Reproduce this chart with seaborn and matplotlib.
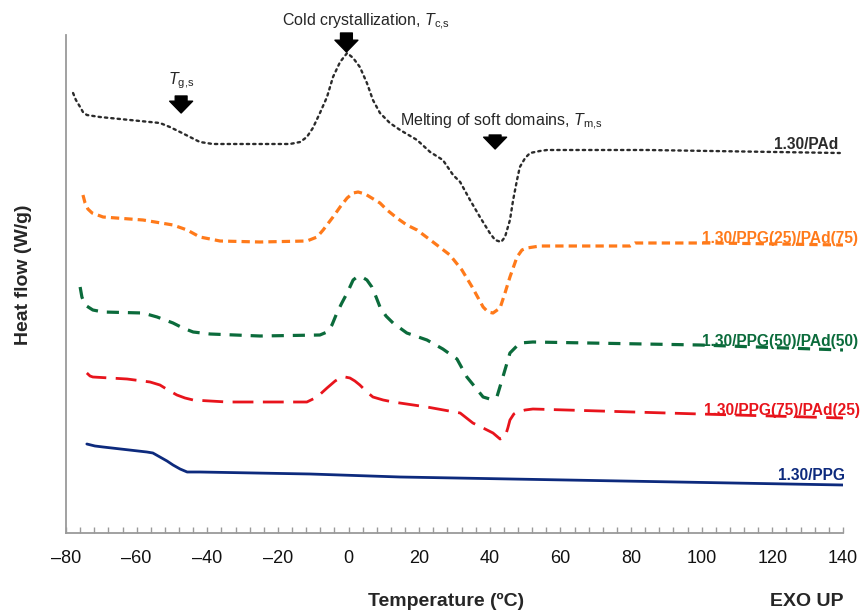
import matplotlib
matplotlib.use("Agg")
import matplotlib.pyplot as plt
from matplotlib.ticker import MultipleLocator, FuncFormatter
import seaborn as sns
import pandas as pd

# ---------------- data (heat flow in arbitrary offset units) ----------------
pad_T = [-78.0, -77.2, -76.0, -75.2, -74.1, -70.4, -53.4, -50.6, -47.7, -44.9, -42.1, -38.4, -32.7,
         -16.6, -13.7, -11.8, -10.1, -8.1, -6.1, -4.4, -2.4, -0.4, 1.3, 3.2, 5.2, 6.9, 8.9, 11.7,
         14.6, 19.4, 23.1, 26.7, 29.6, 31.6, 34.4, 37.2, 40.0, 41.5, 43.2, 44.3, 45.7, 46.6, 47.7,
         48.5, 50.0, 51.4, 54.2, 56.2, 84.5, 139.1]
pad_hf = [440, 433, 426, 421, 418, 416, 410, 406, 401, 396, 391, 389, 389,
          389, 391, 396, 405, 420, 436, 456, 471, 480, 475, 466, 450, 433, 420, 410,
          403, 393, 381, 373, 358, 351, 333, 316, 300, 293, 291, 296, 313, 333, 353,
          366, 375, 380, 382, 383, 383, 380]

p25_T = [-75.2, -74.6, -73.8, -72.6, -69.5, -58.2, -49.7, -45.7, -42.1, -39.2, -36.4, -25.1,
         -11.8, -8.9, -7.2, -4.4, -2.4, -0.4, 1.3, 2.7, 4.7, 6.1, 8.9, 10.9, 13.7, 16.5, 19.4,
         23.9, 28.7, 32.1, 35.0, 38.1, 39.5, 40.9, 42.9, 44.3, 45.7, 47.7, 49.1, 50.5, 54.2,
         79.7, 81.1, 103.2, 140.0]
p25_hf = [338, 330, 324, 320, 316, 313, 308, 303, 296, 294, 292, 291,
          292, 296, 303, 316, 326, 335, 340, 341, 339, 336, 330, 323, 315, 308, 303,
          291, 278, 263, 246, 226, 221, 220, 225, 240, 256, 276, 283, 285, 287,
          287, 290, 290, 288]

p50_T = [-76.0, -75.5, -74.6, -72.4, -69.5, -58.2, -54.2, -49.7, -46.9, -44.0, -39.2, -25.1,
         -8.1, -6.1, -4.7, -3.3, -1.9, -0.4, 1.3, 2.4, 3.8, 5.2, 6.6, 7.8, 8.9, 10.6, 12.6,
         16.5, 22.2, 26.7, 30.7, 33.5, 38.1, 40.0, 42.0, 43.7, 45.7, 48.5, 52.2, 99.5, 140.0]
p50_hf = [246, 236, 228, 223, 221, 220, 216, 210, 205, 201, 199, 197,
          198, 201, 208, 220, 230, 240, 253, 256, 256, 253, 246, 236, 226, 217, 210,
          200, 193, 184, 174, 156, 136, 134, 136, 156, 180, 190, 191, 188, 183]

p75_T = [-74.1, -73.2, -72.4, -62.7, -56.2, -53.4, -51.1, -48.6, -46.3, -44.0, -34.4, -11.8,
         -8.9, -6.1, -3.8, -2.4, -1.0, 0.4, 1.8, 3.2, 5.2, 6.9, 9.8, 12.6, 22.2, 31.6, 35.2,
         38.1, 40.9, 42.9, 44.3, 45.1, 45.7, 46.8, 47.7, 50.0, 52.2, 99.5, 140.0]
p75_hf = [160, 157, 156, 154, 151, 148, 143, 138, 135, 133, 131, 131,
          136, 145, 152, 155, 156, 155, 152, 148, 141, 136, 133, 131, 126, 120, 110,
          105, 100, 94, 96, 105, 113, 119, 121, 123, 124, 119, 115]

ppg_T = [-74.1, -71.8, -69.5, -57.1, -55.4, -53.4, -51.4, -49.7, -47.7, -45.7, -42.1, -10.9,
         14.6, 140.0]
ppg_hf = [89, 87, 86, 81, 80, 76, 72, 68, 64, 61, 61, 59, 56, 48]

series_names = ["1.30/PAd", "1.30/PPG(25)/PAd(75)", "1.30/PPG(50)/PAd(50)",
                "1.30/PPG(75)/PAd(25)", "1.30/PPG"]
x_ticks = [-80, -60, -40, -20, 0, 20, 40, 60, 80, 100, 120, 140]

# ---------------- styling ----------------
sns.set_style("white")
plt.rcParams["font.family"] = ["Liberation Sans", "DejaVu Sans"]
plt.rcParams["mathtext.fontset"] = "custom"
plt.rcParams["mathtext.rm"] = "Liberation Sans"
plt.rcParams["mathtext.it"] = "Liberation Sans:italic"
plt.rcParams["mathtext.bf"] = "Liberation Sans:bold"

colors = ["#2b2b2b", "#ff7a1a", "#0b6b3b", "#e8141c", "#0d2a7d"]
styles = [dict(linestyle=(0, (1, 1.7)), linewidth=1.7, dash_capstyle="round"),
          dict(linestyle=(0, (2.6, 1.6)), linewidth=2.3),
          dict(linestyle=(0, (3.8, 2.8)), linewidth=2.3),
          dict(linestyle=(0, (7.5, 3.4)), linewidth=2.0),
          dict(linestyle="-", linewidth=2.0)]
label_pos = [(138.6, 384), (144.2, 290), (144.2, 187), (144.8, 118), (140.5, 53)]

fig = plt.figure(figsize=(8.63, 6.12), dpi=100)
ax = fig.add_axes([66 / 863, 79 / 612, 777 / 863, 498 / 612])

all_T = [pad_T, p25_T, p50_T, p75_T, ppg_T]
all_hf = [pad_hf, p25_hf, p50_hf, p75_hf, ppg_hf]

for name, T, hf, c, st, (lx, ly) in zip(series_names, all_T, all_hf, colors, styles, label_pos):
    df = pd.DataFrame({"T": T, "hf": hf})
    sns.lineplot(data=df, x="T", y="hf", ax=ax, color=c, estimator=None,
                 solid_joinstyle="round", **st)
    ax.text(lx, ly, name, color=c, fontsize=11.2, fontweight="bold",
            ha="right", va="baseline", clip_on=False)

ax.set_xlim(-80, 140)
ax.set_ylim(0, 498)
ax.set_yticks([])
ax.set_xticks(x_ticks)
ax.xaxis.set_minor_locator(MultipleLocator(4))
ax.xaxis.set_major_formatter(FuncFormatter(lambda v, p: f"{int(v)}".replace("-", "\u2013")))
ax.tick_params(axis="x", which="both", bottom=True, direction="in", length=4, width=1,
               color="#9a9a9a", labelsize=13, pad=12, labelcolor="#111111")
for s in ["top", "right"]:
    ax.spines[s].set_visible(False)
for s in ["left", "bottom"]:
    ax.spines[s].set_color("#9a9a9a")
    ax.spines[s].set_linewidth(1.3)

ax.set_xlabel("Temperature (\u00baC)", fontsize=14, fontweight="bold", va="center")
ax.xaxis.set_label_coords((446 - 66) / 777, (533 - 601) / 498)
ax.set_ylabel("Heat flow (W/g)", fontsize=14, fontweight="bold", va="center")
ax.yaxis.set_label_coords((24 - 66) / 777, (533 - 275) / 498)
fig.text(843 / 863, 1 - 602 / 612, "EXO UP", fontsize=14, fontweight="bold",
         ha="right", va="center")

# annotations with bold down arrows
arrow_kw = dict(arrowstyle="simple,head_length=0.85,head_width=1.65,tail_width=0.85",
                mutation_scale=10, color="black", shrinkA=0, shrinkB=0)
ax.annotate("", xy=(-0.6, 481), xytext=(-0.6, 500), arrowprops=arrow_kw, annotation_clip=False)
ax.annotate("", xy=(-47.4, 420), xytext=(-47.4, 437), arrowprops=arrow_kw, annotation_clip=False)
ax.annotate("", xy=(41.5, 384), xytext=(41.5, 398), arrowprops=arrow_kw, annotation_clip=False)

ax.text(-18.8, 511, r"Cold crystallization, $T_{\mathrm{c{,}s}}$", fontsize=11.5,
        ha="left", va="center", clip_on=False)
ax.text(-47.4, 452, r"$T_{\mathrm{g{,}s}}$", fontsize=11.5, ha="center", va="center", clip_on=False)
ax.text(14.6, 411, r"Melting of soft domains, $T_{\mathrm{m{,}s}}$", fontsize=11.5,
        ha="left", va="center", clip_on=False)

fig.savefig("out.png", dpi=100)
